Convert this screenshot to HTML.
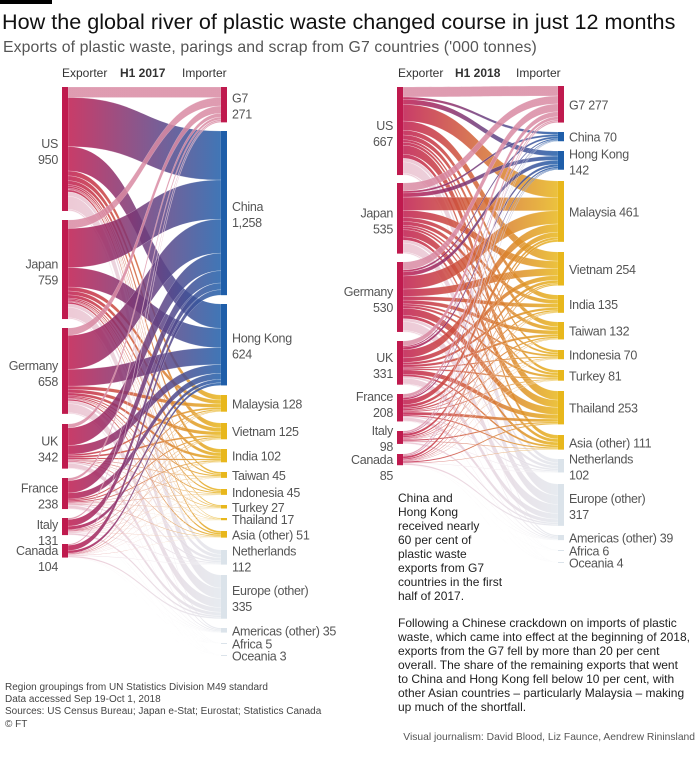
<!DOCTYPE html>
<html><head><meta charset="utf-8">
<style>
html,body{margin:0;padding:0;background:#fff;}
body{width:700px;height:761px;overflow:hidden;position:relative;font-family:"Liberation Sans",sans-serif;}
svg{position:absolute;left:0;top:0;}
</style></head><body>
<svg id="s" width="700" height="761" xmlns="http://www.w3.org/2000/svg" font-family="Liberation Sans, sans-serif">
<rect x="0" y="0" width="52" height="4" fill="#000"/>
<text x="2" y="29" font-size="21.6" fill="#111">How the global river of plastic waste changed course in just 12 months</text>
<text x="3" y="52" font-size="15.8" fill="#555" letter-spacing="0.1">Exports of plastic waste, parings and scrap from G7 countries ('000 tonnes)</text>
<g font-size="12" fill="#333">
<text x="62" y="77">Exporter</text><text x="120" y="77" font-weight="bold">H1 2017</text><text x="182" y="77">Importer</text>
<text x="398" y="77">Exporter</text><text x="455" y="77" font-weight="bold">H1 2018</text><text x="516" y="77">Importer</text>
</g>
<g id="links"></g>
<g id="nodes"></g>
<g id="labels" font-size="12.5" fill="#555" letter-spacing="-0.3"></g>
<g font-size="12" fill="#222">
<text x="398" y="502">China and</text>
<text x="398" y="516">Hong Kong</text>
<text x="398" y="530">received nearly</text>
<text x="398" y="544">60 per cent of</text>
<text x="398" y="558">plastic waste</text>
<text x="398" y="572">exports from G7</text>
<text x="398" y="586">countries in the first</text>
<text x="398" y="600">half of 2017.</text>
<text x="398" y="627">Following a Chinese crackdown on imports of plastic</text>
<text x="398" y="641">waste, which came into effect at the beginning of 2018,</text>
<text x="398" y="655">exports from the G7 fell by more than 20 per cent</text>
<text x="398" y="669">overall. The share of the remaining exports that went</text>
<text x="398" y="683">to China and Hong Kong fell below 10 per cent, with</text>
<text x="398" y="697">other Asian countries – particularly Malaysia – making</text>
<text x="398" y="711">up much of the shortfall.</text>
</g>
<g font-size="10" fill="#444">
<text x="5" y="690">Region groupings from UN Statistics Division M49 standard</text>
<text x="5" y="702">Data accessed Sep 19-Oct 1, 2018</text>
<text x="5" y="714">Sources: US Census Bureau; Japan e-Stat; Eurostat; Statistics Canada</text>
<text x="5" y="727">© FT</text>
<text x="695" y="740" text-anchor="end" font-size="10.3" fill="#555">Visual journalism: David Blood, Liz Faunce, Aendrew Rininsland</text>
</g>
</svg>
<script>
(function(){
var NS="http://www.w3.org/2000/svg";
var L=document.getElementById('links'),N=document.getElementById('nodes'),T=document.getElementById('labels'),S=document.getElementById('s');
var defs=document.createElementNS(NS,'defs');S.insertBefore(defs,S.firstChild);
function el(t,a,p){var e=document.createElementNS(NS,t);for(var k in a)e.setAttribute(k,a[k]);(p||S).appendChild(e);return e;}
var CR="#bf1a4e",PK="#d98aa3",BL="#1f5ea9",YE="#e8b71c",GR="#dbe3ea";
var gid=0;
function chart(cfg){
 var k=cfg.k;
 var ex=cfg.ex, im=cfg.im;
 var tot=0;ex.forEach(function(e){tot+=e.v;});
 var f=ex.map(function(e){return im.map(function(m){return e.v*m.v/tot;});});
 var sy=ex.map(function(e){return e.y;}), ty=im.map(function(m){return m.y;});
 var paths=[];
 for(var i=0;i<ex.length;i++)for(var j=0;j<im.length;j++){
   var h=f[i][j]*k; var y0=sy[i]; sy[i]+=h;
   paths.push({i:i,j:j,h:h,y0:y0});
 }
 for(var j=0;j<im.length;j++)for(var i=0;i<ex.length;i++){
   var p=paths[i*im.length+j]; p.y1=ty[j]; ty[j]+=p.h;
 }
 var order={grey:0,yellow:1,blue:2,g7:3};
 paths.sort(function(a,b){return order[im[a.j].c]-order[im[b.j].c];});
 var x0=cfg.x0+6,x1=cfg.x1,xm=(x0+x1)/2;
 paths.forEach(function(p){
   var c=im[p.j].c,id='g'+(gid++);var a,b,op;
   if(c=='g7'){a=PK;b=PK;op=0.85;}
   else if(c=='blue'){a=CR;b=BL;op=0.85;}
   else if(c=='yellow'){a=CR;b=YE;op=0.85;}
   else {a="#e9bccb";b="#e1e6ec";op=0.8;}
   var g=el('linearGradient',{id:id,gradientUnits:'userSpaceOnUse',x1:x0,y1:0,x2:x1,y2:0},defs);
   el('stop',{offset:'0','stop-color':a},g);el('stop',{offset:'1','stop-color':b},g);
   var d='M'+x0+','+p.y0+'C'+xm+','+p.y0+' '+xm+','+p.y1+' '+x1+','+p.y1+
     'L'+x1+','+(p.y1+p.h)+'C'+xm+','+(p.y1+p.h)+' '+xm+','+(p.y0+p.h)+' '+x0+','+(p.y0+p.h)+'Z';
   el('path',{d:d,fill:'url(#'+id+')','fill-opacity':op,stroke:'#fff','stroke-width':0.3,'stroke-opacity':0.6},L);
 });
 ex.forEach(function(e){
   var h=e.v*k;el('rect',{x:cfg.x0,y:e.y,width:6,height:h,fill:CR},N);
   var cy=e.ly||(e.y+h/2);
   el('text',{x:cfg.x0-4,y:cy-1,'text-anchor':'end'},T).textContent=e.n;
   el('text',{x:cfg.x0-4,y:cy+15,'text-anchor':'end'},T).textContent=e.l;
 });
 im.forEach(function(m){
   var h=Math.max(m.v*k,1);var col=m.c=='g7'?CR:m.c=='blue'?BL:m.c=='yellow'?YE:GR;
   el('rect',{x:x1,y:m.y,width:6,height:h,fill:col},N);
   var cy=m.y+h/2;
   if(m.two){el('text',{x:x1+11,y:cy-2},T).textContent=m.n;el('text',{x:x1+11,y:cy+14},T).textContent=m.l;}
   else el('text',{x:x1+11,y:cy+5},T).textContent=m.n+' '+m.l;
 });
}
chart({k:0.1305,x0:62,x1:221,
 ex:[{n:'US',l:'950',v:950,y:87},{n:'Japan',l:'759',v:759,y:220},{n:'Germany',l:'658',v:658,y:328},{n:'UK',l:'342',v:342,y:424},{n:'France',l:'238',v:238,y:478},{n:'Italy',l:'131',v:131,y:518,ly:530},{n:'Canada',l:'104',v:104,y:544,ly:556}],
 im:[{n:'G7',l:'271',v:271,y:87,c:'g7',two:1},{n:'China',l:'1,258',v:1258,y:131,c:'blue',two:1},{n:'Hong Kong',l:'624',v:624,y:304,c:'blue',two:1},
 {n:'Malaysia',l:'128',v:128,y:395,c:'yellow'},{n:'Vietnam',l:'125',v:125,y:423,c:'yellow'},{n:'India',l:'102',v:102,y:449,c:'yellow'},{n:'Taiwan',l:'45',v:45,y:472,c:'yellow'},{n:'Indonesia',l:'45',v:45,y:489,c:'yellow'},{n:'Turkey',l:'27',v:27,y:505,c:'yellow'},{n:'Thailand',l:'17',v:17,y:518,c:'yellow'},{n:'Asia (other)',l:'51',v:51,y:531,c:'yellow'},
 {n:'Netherlands',l:'112',v:112,y:550,c:'grey',two:1},{n:'Europe (other)',l:'335',v:335,y:575,c:'grey',two:1},{n:'Americas (other)',l:'35',v:35,y:628,c:'grey'},{n:'Africa',l:'5',v:5,y:643,c:'grey'},{n:'Oceania',l:'3',v:3,y:655,c:'grey'}]});
chart({k:0.132,x0:397,x1:558,
 ex:[{n:'US',l:'667',v:667,y:87},{n:'Japan',l:'535',v:535,y:183},{n:'Germany',l:'530',v:530,y:262},{n:'UK',l:'331',v:331,y:341},{n:'France',l:'208',v:208,y:394,ly:402},{n:'Italy',l:'98',v:98,y:431,ly:436},{n:'Canada',l:'85',v:85,y:454,ly:465}],
 im:[{n:'G7',l:'277',v:277,y:86,c:'g7'},{n:'China',l:'70',v:70,y:132,c:'blue'},{n:'Hong Kong',l:'142',v:142,y:151,c:'blue',two:1},
 {n:'Malaysia',l:'461',v:461,y:181,c:'yellow'},{n:'Vietnam',l:'254',v:254,y:252,c:'yellow'},{n:'India',l:'135',v:135,y:295,c:'yellow'},{n:'Taiwan',l:'132',v:132,y:322,c:'yellow'},{n:'Indonesia',l:'70',v:70,y:350,c:'yellow'},{n:'Turkey',l:'81',v:81,y:370,c:'yellow'},{n:'Thailand',l:'253',v:253,y:391,c:'yellow'},{n:'Asia (other)',l:'111',v:111,y:435,c:'yellow'},
 {n:'Netherlands',l:'102',v:102,y:459,c:'grey',two:1},{n:'Europe (other)',l:'317',v:317,y:484,c:'grey',two:1},{n:'Americas (other)',l:'39',v:39,y:535,c:'grey'},{n:'Africa',l:'6',v:6,y:550,c:'grey'},{n:'Oceania',l:'4',v:4,y:562,c:'grey'}]});
})();
</script>
</body></html>
